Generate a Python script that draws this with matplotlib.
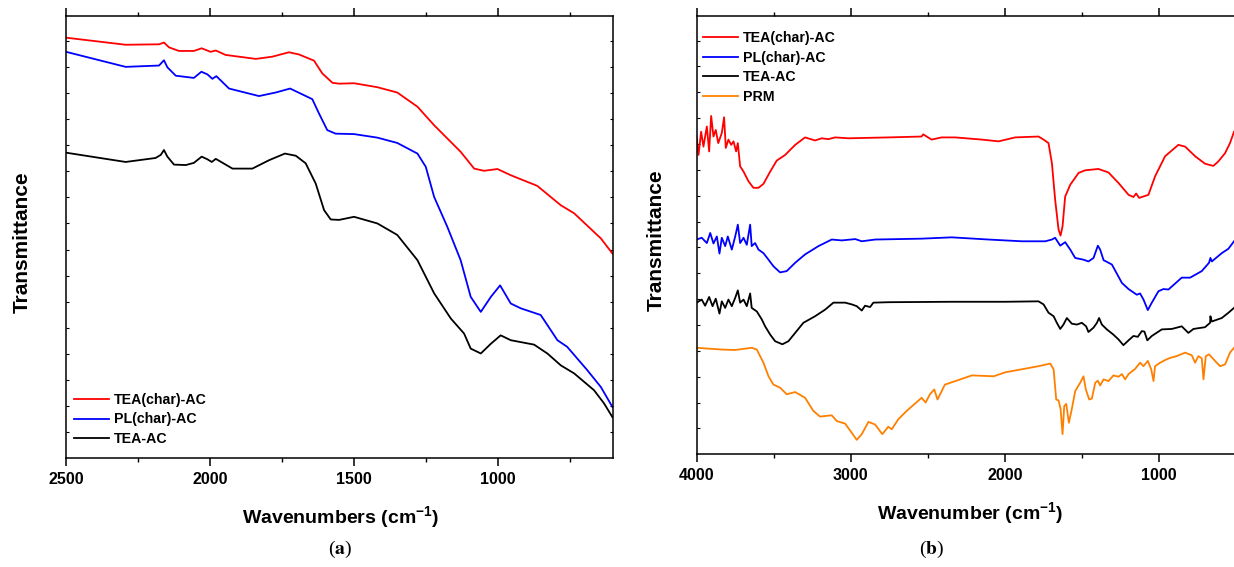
import matplotlib
matplotlib.use("Agg")
import matplotlib.pyplot as plt

plt.rcParams['font.family'] = ['Liberation Sans', 'DejaVu Sans']
plt.rcParams['font.weight'] = 'bold'
plt.rcParams['mathtext.fontset'] = 'custom'
plt.rcParams['mathtext.rm'] = 'Liberation Sans:bold'
plt.rcParams['mathtext.bf'] = 'Liberation Sans:bold'

# ---- panel (a): wavenumber (cm-1) and transmittance (arb. units) ----
a_red_wn = [2500, 2293, 2177, 2160, 2142, 2108, 2056, 2029, 1998, 1980, 1946, 1841, 1784,
            1726, 1691, 1639, 1610, 1575, 1552, 1500, 1419, 1350, 1280, 1222, 1130, 1083,
            1049, 1002, 956, 864, 782, 736, 643, 603]
a_red_t = [95.1, 93.5, 93.6, 94.0, 92.9, 92.1, 92.1, 92.7, 91.9, 92.2, 91.2, 90.3, 90.8,
           91.8, 91.3, 89.9, 87.0, 84.9, 84.7, 84.8, 83.9, 82.7, 79.5, 75.3, 69.3, 65.5,
           65.0, 65.4, 64.0, 61.6, 57.2, 55.4, 49.7, 46.3]

a_blue_wn = [2500, 2293, 2177, 2160, 2148, 2119, 2056, 2030, 2009, 1992, 1978, 1934, 1830,
             1772, 1722, 1645, 1622, 1593, 1564, 1500, 1419, 1350, 1280, 1251, 1222, 1176,
             1130, 1095, 1060, 1025, 993, 956, 921, 852, 794, 760, 690, 643, 603]
a_blue_t = [91.9, 88.5, 88.8, 90.0, 88.4, 86.5, 86.0, 87.4, 86.8, 85.8, 86.4, 83.6, 81.9,
            82.7, 83.6, 81.2, 78.0, 74.2, 73.4, 73.3, 72.5, 71.3, 68.9, 65.9, 59.1, 52.3,
            44.8, 36.5, 33.1, 36.5, 39.1, 35.0, 33.9, 32.4, 26.7, 25.2, 19.9, 16.1, 11.6]

a_black_wn = [2500, 2293, 2189, 2171, 2160, 2148, 2125, 2084, 2056, 2029, 2009, 1994, 1980,
              1922, 1853, 1795, 1740, 1702, 1668, 1633, 1604, 1581, 1552, 1500, 1419, 1350,
              1280, 1222, 1164, 1118, 1095, 1060, 1025, 991, 956, 875, 829, 782, 736, 667,
              632, 603]
a_black_t = [69.1, 67.0, 67.9, 68.6, 69.7, 68.2, 66.4, 66.3, 66.8, 68.2, 67.6, 67.0, 67.7,
             65.5, 65.5, 67.4, 68.9, 68.4, 66.7, 62.1, 56.1, 54.0, 53.9, 54.6, 53.1, 50.5,
             44.8, 37.3, 31.6, 28.2, 24.8, 23.7, 25.9, 27.8, 26.7, 25.7, 23.7, 21.0, 19.2,
             15.4, 12.4, 9.3]

# ---- panel (b) ----
b_red_wn = [4000, 3987, 3970, 3955, 3933, 3918, 3905, 3890, 3875, 3859, 3836, 3821, 3810,
            3793, 3775, 3760, 3743, 3732, 3717, 3695, 3663, 3631, 3598, 3566, 3522, 3480,
            3425, 3360, 3296, 3231, 3188, 3145, 3101, 3015, 2756, 2540, 2530, 2475, 2410,
            2322, 2149, 2041, 1933, 1782, 1749, 1717, 1695, 1674, 1652, 1639, 1626, 1609,
            1576, 1522, 1479, 1393, 1328, 1263, 1198, 1166, 1149, 1129, 1069, 1026, 961,
            875, 831, 766, 702, 648, 616, 572, 540, 514]
b_red_t = [72.5, 68.3, 73.6, 70.2, 74.8, 69.1, 77.2, 72.5, 74.0, 71.0, 73.3, 76.9, 69.9,
           71.8, 70.6, 71.4, 69.1, 71.0, 65.7, 64.5, 62.3, 60.8, 60.8, 61.7, 64.5, 67.0,
           68.3, 70.6, 72.3, 71.6, 72.1, 71.9, 72.3, 72.1, 72.3, 72.5, 73.0, 71.8, 72.3,
           72.3, 71.8, 71.4, 72.3, 72.5, 71.8, 71.0, 66.4, 58.1, 51.3, 49.9, 52.0, 58.8,
           61.5, 64.2, 64.8, 65.1, 64.3, 61.9, 59.2, 58.7, 59.5, 58.5, 59.2, 63.4, 68.0,
           70.6, 70.2, 68.0, 66.3, 65.8, 66.8, 68.7, 71.0, 73.6]

b_blue_wn = [4000, 3966, 3933, 3911, 3890, 3868, 3851, 3836, 3814, 3797, 3771, 3749, 3732,
             3717, 3695, 3674, 3652, 3642, 3620, 3598, 3566, 3533, 3501, 3458, 3415, 3360,
             3296, 3209, 3123, 3058, 2970, 2928, 2842, 2540, 2345, 2105, 1890, 1738, 1695,
             1674, 1641, 1609, 1576, 1544, 1490, 1458, 1425, 1397, 1382, 1360, 1306, 1241,
             1198, 1144, 1123, 1101, 1073, 1047, 1004, 972, 939, 853, 799, 723, 676, 667,
             658, 593, 550, 514]
b_blue_t = [49.0, 49.4, 48.2, 50.5, 48.1, 49.7, 45.8, 49.4, 47.5, 49.7, 46.7, 49.7, 52.4,
            48.2, 49.4, 47.8, 52.4, 47.5, 48.2, 46.7, 45.9, 44.4, 42.9, 41.5, 41.8, 43.7,
            45.6, 47.5, 49.0, 48.8, 49.1, 48.6, 49.0, 49.2, 49.5, 49.0, 48.6, 48.6, 49.0,
            49.4, 47.6, 48.4, 46.7, 44.8, 44.4, 44.0, 44.8, 47.6, 46.7, 44.3, 43.3, 39.1,
            37.7, 36.4, 36.7, 35.3, 32.9, 34.6, 37.2, 37.7, 37.6, 40.3, 40.3, 41.8, 43.7,
            44.8, 44.0, 45.9, 46.9, 48.6]

b_black_wn = [4000, 3966, 3944, 3918, 3896, 3875, 3851, 3836, 3814, 3793, 3771, 3749, 3732,
              3717, 3695, 3674, 3652, 3642, 3609, 3577, 3555, 3522, 3490, 3443, 3404, 3360,
              3307, 3231, 3166, 3112, 3036, 2993, 2961, 2928, 2907, 2874, 2853, 2756, 2345,
              1998, 1782, 1749, 1717, 1684, 1663, 1641, 1620, 1598, 1566, 1533, 1501, 1473,
              1458, 1425, 1403, 1389, 1371, 1339, 1296, 1263, 1231, 1198, 1166, 1138, 1112,
              1095, 1076, 1047, 982, 917, 853, 810, 777, 702, 669, 667, 658, 593, 550, 514]
b_black_t = [34.6, 35.3, 33.9, 35.9, 33.8, 35.5, 32.1, 34.9, 33.4, 35.3, 33.8, 35.7, 37.4,
             34.6, 35.3, 33.8, 36.7, 33.4, 32.6, 30.8, 29.2, 27.3, 25.8, 25.1, 25.8, 27.7,
             30.0, 31.5, 33.0, 34.6, 34.6, 34.2, 33.8, 32.8, 33.9, 33.6, 34.6, 34.7, 34.8,
             34.8, 34.9, 34.2, 32.3, 31.5, 30.0, 28.6, 29.6, 31.1, 29.8, 29.6, 30.0, 29.2,
             27.9, 28.9, 30.0, 31.1, 29.6, 28.5, 27.3, 26.2, 24.9, 26.0, 27.0, 26.8, 28.1,
             28.0, 26.0, 27.0, 28.5, 28.6, 29.2, 27.7, 28.6, 29.0, 30.0, 31.5, 30.3, 31.1,
             32.3, 33.4]

b_orange_wn = [4000, 3836, 3749, 3642, 3609, 3566, 3533, 3501, 3458, 3415, 3360, 3296, 3242,
               3199, 3123, 3091, 3036, 2993, 2961, 2928, 2885, 2842, 2795, 2756, 2734, 2691,
               2637, 2572, 2540, 2514, 2486, 2458, 2437, 2389, 2322, 2214, 2073, 1998, 1890,
               1782, 1706, 1684, 1667, 1652, 1639, 1626, 1615, 1602, 1585, 1566, 1544, 1512,
               1490, 1475, 1453, 1436, 1414, 1397, 1382, 1360, 1328, 1296, 1263, 1241, 1220,
               1198, 1155, 1123, 1101, 1073, 1051, 1036, 1026, 993, 961, 928, 885, 831, 788,
               766, 745, 723, 712, 697, 676, 637, 604, 572, 540, 514]
b_orange_t = [24.3, 23.9, 23.8, 24.3, 23.9, 20.9, 17.8, 15.9, 15.2, 13.7, 14.2, 12.9, 9.9,
              8.6, 8.9, 7.6, 7.0, 4.9, 3.3, 4.6, 7.4, 6.8, 4.6, 6.3, 5.7, 8.0,
              9.9, 11.9, 12.9, 11.8, 13.7, 14.8, 12.5, 15.9, 16.7, 18.0, 17.8, 18.7, 19.4,
              20.1, 20.7, 19.4, 12.5, 12.3, 10.4, 4.6, 11.0, 11.5, 7.2, 10.3, 14.4, 16.3,
              17.8, 14.8, 12.5, 12.7, 16.3, 16.8, 15.7, 17.1, 16.7, 18.0, 17.7, 18.3, 17.1,
              18.3, 19.5, 20.9, 20.1, 21.3, 19.4, 16.7, 20.1, 20.9, 21.5, 22.0, 22.4, 23.2, 22.6,
              20.9, 22.4, 21.9, 17.1, 22.4, 22.8, 21.3, 20.1, 20.5, 23.2, 24.3]

labels = ["TEA(char)-AC", "PL(char)-AC", "TEA-AC", "PRM"]
colors = ["#ff0000", "#0000ff", "#000000", "#ff8000"]


def style_axes(ax, major, minor):
    for sp in ax.spines.values():
        sp.set_linewidth(1.1)
    ax.set_xticks(major)
    ax.set_xticks(minor, minor=True)
    ax.set_yticks([])
    ax.set_yticks([i * 5.9 for i in range(1, 17)], minor=True)
    ax.tick_params(axis='x', which='major', direction='out', length=6, width=1.1,
                   labelsize=11.5, pad=4, top=True)
    ax.tick_params(axis='x', which='minor', direction='out', length=3, width=1.0, top=True)
    ax.tick_params(axis='y', which='minor', direction='in', length=2, width=0.8, right=True)
    for lab in ax.get_xticklabels():
        lab.set_fontweight('bold')


fig = plt.figure(figsize=(12.34, 5.67), dpi=100)

# (a)
ax1 = fig.add_axes([66 / 1234, 1 - 458.3 / 567, (613.3 - 66) / 1234, (458.3 - 16) / 567])
ax1.plot(a_red_wn, a_red_t, color=colors[0], lw=1.3, label=labels[0])
ax1.plot(a_blue_wn, a_blue_t, color=colors[1], lw=1.3, label=labels[1])
ax1.plot(a_black_wn, a_black_t, color=colors[2], lw=1.3, label=labels[2])
ax1.set_xlim(2500, 600)
ax1.set_ylim(0, 100)
style_axes(ax1, [2500, 2000, 1500, 1000], [2250, 1750, 1250, 750])
ax1.legend(loc='lower left', bbox_to_anchor=(0.0044, 0.014), frameon=False, fontsize=10.2,
           handlelength=2.45, handletextpad=0.35, labelspacing=0.42, borderaxespad=0,
           borderpad=0.4)

# (b)
ax2 = fig.add_axes([696.5 / 1234, 1 - 454.3 / 567, (1234 - 696.5) / 1234, (454.3 - 16) / 567])
ax2.plot(b_red_wn, b_red_t, color=colors[0], lw=1.3, label=labels[0])
ax2.plot(b_blue_wn, b_blue_t, color=colors[1], lw=1.3, label=labels[1])
ax2.plot(b_black_wn, b_black_t, color=colors[2], lw=1.3, label=labels[2])
ax2.plot(b_orange_wn, b_orange_t, color=colors[3], lw=1.3, label=labels[3])
ax2.set_xlim(4000, 514)
ax2.set_ylim(0, 100)
style_axes(ax2, [4000, 3000, 2000, 1000], [3500, 2500, 1500])
ax2.spines['right'].set_visible(False)
ax2.tick_params(axis='y', which='minor', right=False)
ax2.legend(loc='upper left', bbox_to_anchor=(0.002, 0.979), frameon=False, fontsize=10.2,
           handlelength=2.45, handletextpad=0.35, labelspacing=0.4, borderaxespad=0,
           borderpad=0.4)

# axis titles
fig.text(22 / 1234, 1 - 242 / 567, "Transmittance", rotation=90, ha='center', va='center',
         fontsize=15, fontweight='bold')
fig.text(656 / 1234, 1 - 240 / 567, "Transmittance", rotation=90, ha='center', va='center',
         fontsize=15, fontweight='bold')
fig.text(341 / 1234, 1 - 518 / 567, r"Wavenumbers (cm$^{\mathbf{-1}}$)", ha='center',
         va='center', fontsize=14, fontweight='bold')
fig.text(970 / 1234, 1 - 514 / 567, r"Wavenumber (cm$^{\mathbf{-1}}$)", ha='center',
         va='center', fontsize=14, fontweight='bold')

# panel captions
fig.text(340 / 1234, 1 - 549 / 567, r"($\mathbf{a}$)", ha='center', va='center',
         fontsize=14, family='Liberation Serif', fontweight='normal', math_fontfamily='stix')
fig.text(932 / 1234, 1 - 549 / 567, r"($\mathbf{b}$)", ha='center', va='center',
         fontsize=14, family='Liberation Serif', fontweight='normal', math_fontfamily='stix')

fig.savefig("out.png", dpi=100)
